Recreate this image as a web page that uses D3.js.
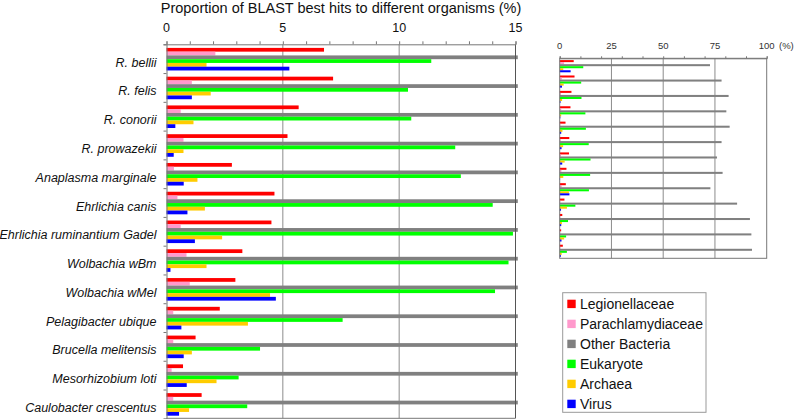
<!DOCTYPE html>
<html>
<head>
<meta charset="utf-8">
<script src="https://cdn.jsdelivr.net/npm/d3@7"></script>
<style>
  body { margin: 0; background: #fff; }
  svg { display: block; font-family: "Liberation Sans", Arial, sans-serif; }
</style>
</head>
<body>
<svg id="svg" width="796" height="419"></svg>
<script>
// values, % of BLAST best hits
const organisms = ['R. bellii', 'R. felis', 'R. conorii', 'R. prowazekii', 'Anaplasma marginale',
  'Ehrlichia canis', 'Ehrlichia ruminantium Gadel', 'Wolbachia wBm', 'Wolbachia wMel',
  'Pelagibacter ubique', 'Brucella melitensis', 'Mesorhizobium loti', 'Caulobacter crescentus'];
const seriesNames = ['Legionellaceae', 'Parachlamydiaceae', 'Other Bacteria', 'Eukaryote', 'Archaea', 'Virus'];
const seriesColors = ['#ff0000', '#ff99cc', '#808080', '#00ff00', '#ffcc00', '#0000ff'];

const legionellaceae = [6.77, 7.16, 5.68, 5.2, 2.81, 4.64, 4.51, 3.26, 2.96, 2.29, 1.25, 0.71, 1.51];
const parachlamydiaceae = [2.1, 1.09, 0.61, 0.73, 0.32, 0.47, 0.61, 0.86, 1.0, 0.29, 0.29, 0.22, 0.29];
const otherBacteria = [72.6, 78.2, 81.6, 80.5, 82.1, 78.2, 76.0, 78.7, 72.8, 85.7, 91.9, 92.6, 92.9];
const eukaryote = [11.38, 10.38, 10.52, 12.41, 12.65, 14.02, 14.89, 14.7, 14.12, 7.57, 4.02, 3.1, 3.47];
const archaea = [1.72, 1.9, 1.16, 0.73, 1.33, 1.65, 2.39, 1.72, 4.45, 3.5, 1.09, 2.15, 0.97];
const virus = [5.28, 1.09, 0.38, 0.31, 0.74, 0.9, 1.22, 0.17, 4.7, 0.64, 0.74, 0.87, 0.54];

const leftTicks = [0, 5, 10, 15];
const rightTicks = [0, 25, 50, 75, 100];

const seriesValues = [legionellaceae, parachlamydiaceae, otherBacteria, eukaryote, archaea, virus];

// flat rows: one per organism x series
const rows = [];
organisms.forEach((org, i) => {
  seriesNames.forEach((s, j) => {
    rows.push({ org, series: s, value: seriesValues[j][i], color: seriesColors[j] });
  });
});

const svg = d3.select('#svg');

// -------------------------------
// left panel (zoomed 0-15)
// -------------------------------
const x = d3.scaleLinear().domain([0, 15]).range([166.5, 515.5]);
const y = d3.scaleBand().domain(organisms).range([44.3, 418.3]);
const yIn = d3.scaleBand().domain(seriesNames).range([3.6, y.bandwidth() - 2.6]);
const xMax = x(15) + 2.3;

const left = svg.append('g');

left.selectAll('.grid')
  .data([5, 10])
  .enter().append('line')
  .attr('x1', d => x(d)).attr('x2', d => x(d))
  .attr('y1', y.range()[0]).attr('y2', y.range()[1])
  .attr('stroke', '#8c8c8c').attr('stroke-width', 1);

left.selectAll('.bar')
  .data(rows)
  .enter().append('rect')
  .attr('x', x(0))
  .attr('y', d => y(d.org) + yIn(d.series))
  .attr('width', d => Math.min(x(d.value), xMax) - x(0))
  .attr('height', yIn.bandwidth())
  .attr('fill', d => d.color);

// frame
left.append('line')
  .attr('x1', x(15)).attr('x2', x(15))
  .attr('y1', y.range()[0]).attr('y2', y.range()[1])
  .attr('stroke', '#555');
left.append('line')
  .attr('x1', x(0)).attr('x2', x(15))
  .attr('y1', y.range()[1]).attr('y2', y.range()[1])
  .attr('stroke', '#777');

// top axis: minor ticks and labels
const minorTop = left.append('g')
  .attr('transform', `translate(0,${y.range()[0]})`)
  .call(d3.axisTop(x).tickValues(d3.range(0, 16)).tickSize(3).tickFormat(''));
minorTop.select('.domain').attr('stroke', '#777');
minorTop.selectAll('.tick line').attr('stroke', '#777');

left.selectAll('.tlabel')
  .data(leftTicks)
  .enter().append('text')
  .attr('x', d => x(d))
  .attr('y', 32)
  .attr('text-anchor', 'middle')
  .attr('font-size', 12.5)
  .attr('fill', '#111')
  .text(d => d);

// left axis with ticks at band boundaries
const yEdge = d3.scaleLinear().domain([0, organisms.length]).range(y.range());
const leftAxis = left.append('g')
  .attr('transform', `translate(${x(0)},0)`)
  .call(d3.axisLeft(yEdge).tickValues(d3.range(0, organisms.length)).tickSize(3).tickFormat(''));
leftAxis.select('.domain').attr('stroke', '#777');
leftAxis.selectAll('.tick line').attr('stroke', '#777');

left.selectAll('.cat')
  .data(organisms)
  .enter().append('text')
  .attr('x', 156.5)
  .attr('y', d => y(d) + 22.4)
  .attr('text-anchor', 'end')
  .attr('font-size', 12.5)
  .attr('font-style', 'italic')
  .attr('fill', '#111')
  .text(d => d);

svg.append('text')
  .attr('x', (x(0) + x(15)) / 2)
  .attr('y', 13)
  .attr('text-anchor', 'middle')
  .attr('font-size', 14.5)
  .attr('fill', '#111')
  .text('Proportion of BLAST best hits to different organisms (%)');

// -------------------------------
// right panel (full 0-100)
// -------------------------------
const x2 = d3.scaleLinear().domain([0, 100]).range([559.7, 766.7]);
const y2 = d3.scaleBand().domain(organisms).range([58.3, 258.3]);
const y2In = d3.scaleBand().domain(seriesNames).range([1.8, y2.bandwidth() - 1.4]);

const right = svg.append('g');

right.selectAll('.grid2')
  .data([25, 50, 75])
  .enter().append('line')
  .attr('x1', d => x2(d)).attr('x2', d => x2(d))
  .attr('y1', y2.range()[0]).attr('y2', y2.range()[1])
  .attr('stroke', '#8c8c8c');

right.selectAll('.bar2')
  .data(rows)
  .enter().append('rect')
  .attr('x', x2(0))
  .attr('y', d => y2(d.org) + y2In(d.series))
  .attr('width', d => x2(d.value) - x2(0))
  .attr('height', y2In.bandwidth())
  .attr('fill', d => d.color);

right.append('rect')
  .attr('x', x2(0)).attr('y', y2.range()[0])
  .attr('width', x2(100) - x2(0)).attr('height', y2.range()[1] - y2.range()[0])
  .attr('fill', 'none').attr('stroke', '#777');

const minorTop2 = right.append('g')
  .attr('transform', `translate(0,${y2.range()[0]})`)
  .call(d3.axisTop(x2).tickValues(d3.range(0, 101, 10)).tickSize(2).tickFormat(''));
minorTop2.select('.domain').attr('stroke', '#777');
minorTop2.selectAll('.tick line').attr('stroke', '#777');

right.selectAll('.tlabel2')
  .data(rightTicks)
  .enter().append('text')
  .attr('x', d => x2(d))
  .attr('y', 48.5)
  .attr('text-anchor', 'middle')
  .attr('font-size', 9.5)
  .attr('fill', '#333')
  .text(d => d);

right.append('text')
  .attr('x', 779)
  .attr('y', 48.5)
  .attr('font-size', 9.5)
  .attr('fill', '#333')
  .text('(%)');

// -------------------------------
// legend
// -------------------------------
const legend = svg.append('g');
legend.append('rect')
  .attr('x', 562.7).attr('y', 292.7)
  .attr('width', 143.3).attr('height', 119.6)
  .attr('fill', '#fff').attr('stroke', '#999');

const legendItems = legend.selectAll('.item')
  .data(seriesNames)
  .enter().append('g')
  .attr('transform', (d, i) => `translate(567.3,${303.7 + i * 20})`);

legendItems.append('rect')
  .attr('x', 0).attr('y', -4)
  .attr('width', 8.4).attr('height', 8.4)
  .attr('fill', (d, i) => seriesColors[i]);

legendItems.append('text')
  .attr('x', 12.7)
  .attr('y', 5)
  .attr('font-size', 14)
  .attr('fill', '#111')
  .text(d => d);
</script>
</body>
</html>
